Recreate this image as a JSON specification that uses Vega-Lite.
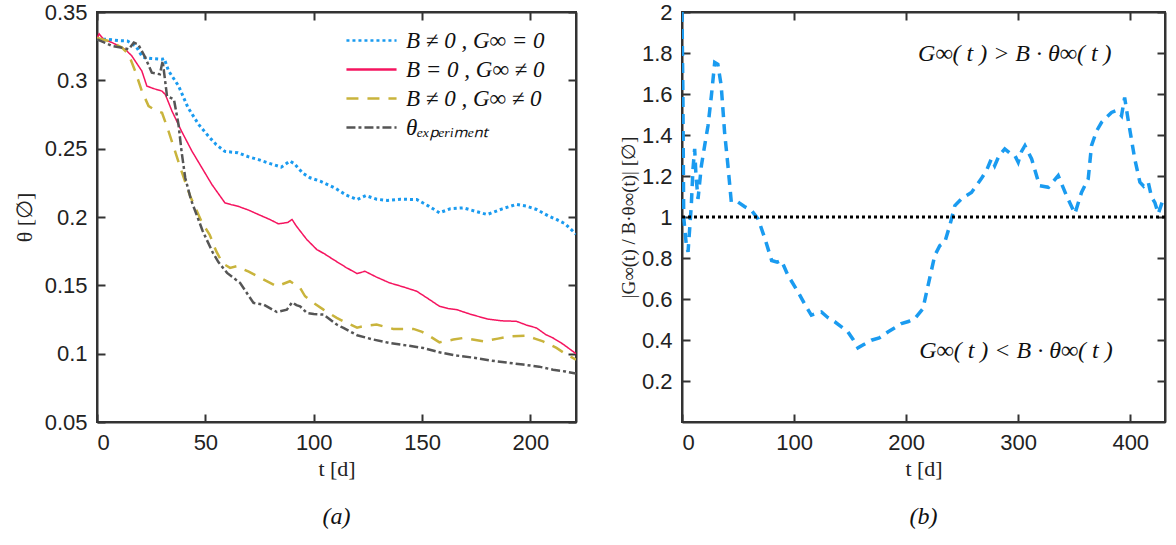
{
  "$schema": "https://vega.github.io/schema/vega-lite/v6.json",
  "background": "white",
  "padding": {"left": 12, "top": 0, "right": 6, "bottom": 10},
  "bounds": "flush",
  "spacing": 106,
  "config": {
    "view": {"stroke": "#333", "strokeWidth": 2},
    "axis": {
      "domainColor": "#333", "domainWidth": 2, "tickColor": "#333", "tickWidth": 2, "tickSize": -8,
      "labelFont": "Liberation Sans", "labelFontSize": 22, "labelColor": "#222", "labelPadding": 18,
      "titleFont": "Liberation Serif", "titleFontSize": 22, "titleFontWeight": "normal", "titleColor": "#222",
      "grid": false
    }
  },
  "datasets": {
    "theta": [
      {"s": "B ≠ 0 , G∞ = 0", "t": 0, "v": 0.330}, {"s": "B ≠ 0 , G∞ = 0", "t": 5, "v": 0.330}, {"s": "B ≠ 0 , G∞ = 0", "t": 10, "v": 0.329}, {"s": "B ≠ 0 , G∞ = 0", "t": 14, "v": 0.3288}, {"s": "B ≠ 0 , G∞ = 0", "t": 18, "v": 0.325}, {"s": "B ≠ 0 , G∞ = 0", "t": 21, "v": 0.317}, {"s": "B ≠ 0 , G∞ = 0", "t": 25, "v": 0.316}, {"s": "B ≠ 0 , G∞ = 0", "t": 30, "v": 0.3154}, {"s": "B ≠ 0 , G∞ = 0", "t": 31, "v": 0.316}, {"s": "B ≠ 0 , G∞ = 0", "t": 33, "v": 0.307}, {"s": "B ≠ 0 , G∞ = 0", "t": 37.6, "v": 0.296}, {"s": "B ≠ 0 , G∞ = 0", "t": 42, "v": 0.280}, {"s": "B ≠ 0 , G∞ = 0", "t": 46.9, "v": 0.2677}, {"s": "B ≠ 0 , G∞ = 0", "t": 51.5, "v": 0.259}, {"s": "B ≠ 0 , G∞ = 0", "t": 55, "v": 0.253}, {"s": "B ≠ 0 , G∞ = 0", "t": 59, "v": 0.248}, {"s": "B ≠ 0 , G∞ = 0", "t": 65, "v": 0.247}, {"s": "B ≠ 0 , G∞ = 0", "t": 70, "v": 0.244}, {"s": "B ≠ 0 , G∞ = 0", "t": 74.5, "v": 0.242}, {"s": "B ≠ 0 , G∞ = 0", "t": 80, "v": 0.239}, {"s": "B ≠ 0 , G∞ = 0", "t": 85, "v": 0.2365}, {"s": "B ≠ 0 , G∞ = 0", "t": 89, "v": 0.2409}, {"s": "B ≠ 0 , G∞ = 0", "t": 91, "v": 0.239}, {"s": "B ≠ 0 , G∞ = 0", "t": 95, "v": 0.232}, {"s": "B ≠ 0 , G∞ = 0", "t": 98.3, "v": 0.2287}, {"s": "B ≠ 0 , G∞ = 0", "t": 103, "v": 0.2262}, {"s": "B ≠ 0 , G∞ = 0", "t": 110, "v": 0.221}, {"s": "B ≠ 0 , G∞ = 0", "t": 115, "v": 0.216}, {"s": "B ≠ 0 , G∞ = 0", "t": 120, "v": 0.2128}, {"s": "B ≠ 0 , G∞ = 0", "t": 124, "v": 0.2157}, {"s": "B ≠ 0 , G∞ = 0", "t": 129, "v": 0.213}, {"s": "B ≠ 0 , G∞ = 0", "t": 134, "v": 0.2121}, {"s": "B ≠ 0 , G∞ = 0", "t": 140, "v": 0.213}, {"s": "B ≠ 0 , G∞ = 0", "t": 147.5, "v": 0.2128}, {"s": "B ≠ 0 , G∞ = 0", "t": 153, "v": 0.208}, {"s": "B ≠ 0 , G∞ = 0", "t": 158, "v": 0.2031}, {"s": "B ≠ 0 , G∞ = 0", "t": 163, "v": 0.206}, {"s": "B ≠ 0 , G∞ = 0", "t": 169, "v": 0.2067}, {"s": "B ≠ 0 , G∞ = 0", "t": 175, "v": 0.204}, {"s": "B ≠ 0 , G∞ = 0", "t": 180, "v": 0.2018}, {"s": "B ≠ 0 , G∞ = 0", "t": 187, "v": 0.206}, {"s": "B ≠ 0 , G∞ = 0", "t": 193.5, "v": 0.2092}, {"s": "B ≠ 0 , G∞ = 0", "t": 198, "v": 0.208}, {"s": "B ≠ 0 , G∞ = 0", "t": 202.8, "v": 0.2055}, {"s": "B ≠ 0 , G∞ = 0", "t": 208, "v": 0.201}, {"s": "B ≠ 0 , G∞ = 0", "t": 212, "v": 0.1982}, {"s": "B ≠ 0 , G∞ = 0", "t": 216, "v": 0.195}, {"s": "B ≠ 0 , G∞ = 0", "t": 221, "v": 0.1875},

      {"s": "B = 0 , G∞ ≠ 0", "t": 0, "v": 0.331}, {"s": "B = 0 , G∞ ≠ 0", "t": 1, "v": 0.334}, {"s": "B = 0 , G∞ ≠ 0", "t": 3, "v": 0.330}, {"s": "B = 0 , G∞ ≠ 0", "t": 7, "v": 0.3276}, {"s": "B = 0 , G∞ ≠ 0", "t": 13, "v": 0.3227}, {"s": "B = 0 , G∞ ≠ 0", "t": 16, "v": 0.318}, {"s": "B = 0 , G∞ ≠ 0", "t": 18.5, "v": 0.312}, {"s": "B = 0 , G∞ ≠ 0", "t": 20.7, "v": 0.3068}, {"s": "B = 0 , G∞ ≠ 0", "t": 23, "v": 0.2958}, {"s": "B = 0 , G∞ ≠ 0", "t": 26, "v": 0.294}, {"s": "B = 0 , G∞ ≠ 0", "t": 30, "v": 0.2921}, {"s": "B = 0 , G∞ ≠ 0", "t": 31.5, "v": 0.2897}, {"s": "B = 0 , G∞ ≠ 0", "t": 34.6, "v": 0.2775}, {"s": "B = 0 , G∞ ≠ 0", "t": 39, "v": 0.2628}, {"s": "B = 0 , G∞ ≠ 0", "t": 43.8, "v": 0.2482}, {"s": "B = 0 , G∞ ≠ 0", "t": 48.4, "v": 0.236}, {"s": "B = 0 , G∞ ≠ 0", "t": 53, "v": 0.2238}, {"s": "B = 0 , G∞ ≠ 0", "t": 59, "v": 0.2104}, {"s": "B = 0 , G∞ ≠ 0", "t": 62, "v": 0.209}, {"s": "B = 0 , G∞ ≠ 0", "t": 65, "v": 0.2079}, {"s": "B = 0 , G∞ ≠ 0", "t": 70, "v": 0.205}, {"s": "B = 0 , G∞ ≠ 0", "t": 74.5, "v": 0.2018}, {"s": "B = 0 , G∞ ≠ 0", "t": 80, "v": 0.198}, {"s": "B = 0 , G∞ ≠ 0", "t": 83.7, "v": 0.195}, {"s": "B = 0 , G∞ ≠ 0", "t": 88, "v": 0.196}, {"s": "B = 0 , G∞ ≠ 0", "t": 90, "v": 0.1982}, {"s": "B = 0 , G∞ ≠ 0", "t": 92, "v": 0.1933}, {"s": "B = 0 , G∞ ≠ 0", "t": 96.8, "v": 0.1835}, {"s": "B = 0 , G∞ ≠ 0", "t": 101.4, "v": 0.1762}, {"s": "B = 0 , G∞ ≠ 0", "t": 105, "v": 0.173}, {"s": "B = 0 , G∞ ≠ 0", "t": 109, "v": 0.1689}, {"s": "B = 0 , G∞ ≠ 0", "t": 115, "v": 0.163}, {"s": "B = 0 , G∞ ≠ 0", "t": 120, "v": 0.1586}, {"s": "B = 0 , G∞ ≠ 0", "t": 123.6, "v": 0.1603}, {"s": "B = 0 , G∞ ≠ 0", "t": 129, "v": 0.156}, {"s": "B = 0 , G∞ ≠ 0", "t": 135, "v": 0.1518}, {"s": "B = 0 , G∞ ≠ 0", "t": 141, "v": 0.149}, {"s": "B = 0 , G∞ ≠ 0", "t": 147.5, "v": 0.1457}, {"s": "B = 0 , G∞ ≠ 0", "t": 153, "v": 0.140}, {"s": "B = 0 , G∞ ≠ 0", "t": 158, "v": 0.1347}, {"s": "B = 0 , G∞ ≠ 0", "t": 162, "v": 0.133}, {"s": "B = 0 , G∞ ≠ 0", "t": 166, "v": 0.1322}, {"s": "B = 0 , G∞ ≠ 0", "t": 172, "v": 0.129}, {"s": "B = 0 , G∞ ≠ 0", "t": 180, "v": 0.1254}, {"s": "B = 0 , G∞ ≠ 0", "t": 187, "v": 0.124}, {"s": "B = 0 , G∞ ≠ 0", "t": 193.5, "v": 0.1237}, {"s": "B = 0 , G∞ ≠ 0", "t": 198, "v": 0.121}, {"s": "B = 0 , G∞ ≠ 0", "t": 202.8, "v": 0.1188}, {"s": "B = 0 , G∞ ≠ 0", "t": 207, "v": 0.114}, {"s": "B = 0 , G∞ ≠ 0", "t": 210.4, "v": 0.1115}, {"s": "B = 0 , G∞ ≠ 0", "t": 215, "v": 0.107}, {"s": "B = 0 , G∞ ≠ 0", "t": 221, "v": 0.100},

      {"s": "B ≠ 0 , G∞ ≠ 0", "t": 0, "v": 0.331}, {"s": "B ≠ 0 , G∞ ≠ 0", "t": 5.4, "v": 0.3288}, {"s": "B ≠ 0 , G∞ ≠ 0", "t": 11.5, "v": 0.324}, {"s": "B ≠ 0 , G∞ ≠ 0", "t": 14.6, "v": 0.319}, {"s": "B ≠ 0 , G∞ ≠ 0", "t": 17.6, "v": 0.3068}, {"s": "B ≠ 0 , G∞ ≠ 0", "t": 20.7, "v": 0.2921}, {"s": "B ≠ 0 , G∞ ≠ 0", "t": 23.8, "v": 0.2812}, {"s": "B ≠ 0 , G∞ ≠ 0", "t": 27, "v": 0.278}, {"s": "B ≠ 0 , G∞ ≠ 0", "t": 30, "v": 0.2763}, {"s": "B ≠ 0 , G∞ ≠ 0", "t": 33, "v": 0.2628}, {"s": "B ≠ 0 , G∞ ≠ 0", "t": 36, "v": 0.2482}, {"s": "B ≠ 0 , G∞ ≠ 0", "t": 39, "v": 0.2335}, {"s": "B ≠ 0 , G∞ ≠ 0", "t": 43, "v": 0.2152}, {"s": "B ≠ 0 , G∞ ≠ 0", "t": 48.4, "v": 0.196}, {"s": "B ≠ 0 , G∞ ≠ 0", "t": 52, "v": 0.187}, {"s": "B ≠ 0 , G∞ ≠ 0", "t": 55, "v": 0.175}, {"s": "B ≠ 0 , G∞ ≠ 0", "t": 58, "v": 0.166}, {"s": "B ≠ 0 , G∞ ≠ 0", "t": 61.4, "v": 0.1628}, {"s": "B ≠ 0 , G∞ ≠ 0", "t": 64.5, "v": 0.164}, {"s": "B ≠ 0 , G∞ ≠ 0", "t": 70, "v": 0.160}, {"s": "B ≠ 0 , G∞ ≠ 0", "t": 76, "v": 0.155}, {"s": "B ≠ 0 , G∞ ≠ 0", "t": 83, "v": 0.1493}, {"s": "B ≠ 0 , G∞ ≠ 0", "t": 89, "v": 0.153}, {"s": "B ≠ 0 , G∞ ≠ 0", "t": 91, "v": 0.151}, {"s": "B ≠ 0 , G∞ ≠ 0", "t": 93.7, "v": 0.1481}, {"s": "B ≠ 0 , G∞ ≠ 0", "t": 96, "v": 0.142}, {"s": "B ≠ 0 , G∞ ≠ 0", "t": 99.8, "v": 0.1372}, {"s": "B ≠ 0 , G∞ ≠ 0", "t": 104.5, "v": 0.1322}, {"s": "B ≠ 0 , G∞ ≠ 0", "t": 110.6, "v": 0.1262}, {"s": "B ≠ 0 , G∞ ≠ 0", "t": 113.7, "v": 0.1237}, {"s": "B ≠ 0 , G∞ ≠ 0", "t": 120, "v": 0.119}, {"s": "B ≠ 0 , G∞ ≠ 0", "t": 124, "v": 0.1205}, {"s": "B ≠ 0 , G∞ ≠ 0", "t": 129, "v": 0.1213}, {"s": "B ≠ 0 , G∞ ≠ 0", "t": 136.7, "v": 0.1181}, {"s": "B ≠ 0 , G∞ ≠ 0", "t": 146, "v": 0.1181}, {"s": "B ≠ 0 , G∞ ≠ 0", "t": 150, "v": 0.116}, {"s": "B ≠ 0 , G∞ ≠ 0", "t": 153.6, "v": 0.1127}, {"s": "B ≠ 0 , G∞ ≠ 0", "t": 158, "v": 0.1083}, {"s": "B ≠ 0 , G∞ ≠ 0", "t": 164.4, "v": 0.1103}, {"s": "B ≠ 0 , G∞ ≠ 0", "t": 169, "v": 0.1115}, {"s": "B ≠ 0 , G∞ ≠ 0", "t": 178.2, "v": 0.109}, {"s": "B ≠ 0 , G∞ ≠ 0", "t": 185, "v": 0.111}, {"s": "B ≠ 0 , G∞ ≠ 0", "t": 190.5, "v": 0.1127}, {"s": "B ≠ 0 , G∞ ≠ 0", "t": 198, "v": 0.1132}, {"s": "B ≠ 0 , G∞ ≠ 0", "t": 202, "v": 0.111}, {"s": "B ≠ 0 , G∞ ≠ 0", "t": 205.8, "v": 0.109}, {"s": "B ≠ 0 , G∞ ≠ 0", "t": 212, "v": 0.1042}, {"s": "B ≠ 0 , G∞ ≠ 0", "t": 216, "v": 0.100}, {"s": "B ≠ 0 , G∞ ≠ 0", "t": 221, "v": 0.0956},

      {"s": "θₑₓₚₑᵣᵢₘₑₙₜ", "t": 0, "v": 0.330}, {"s": "θₑₓₚₑᵣᵢₘₑₙₜ", "t": 3, "v": 0.328}, {"s": "θₑₓₚₑᵣᵢₘₑₙₜ", "t": 7, "v": 0.3251}, {"s": "θₑₓₚₑᵣᵢₘₑₙₜ", "t": 11, "v": 0.324}, {"s": "θₑₓₚₑᵣᵢₘₑₙₜ", "t": 14.6, "v": 0.3227}, {"s": "θₑₓₚₑᵣᵢₘₑₙₜ", "t": 17, "v": 0.3276}, {"s": "θₑₓₚₑᵣᵢₘₑₙₜ", "t": 19, "v": 0.3263}, {"s": "θₑₓₚₑᵣᵢₘₑₙₜ", "t": 22.3, "v": 0.3166}, {"s": "θₑₓₚₑᵣᵢₘₑₙₜ", "t": 25.3, "v": 0.3056}, {"s": "θₑₓₚₑᵣᵢₘₑₙₜ", "t": 29, "v": 0.3044}, {"s": "θₑₓₚₑᵣᵢₘₑₙₜ", "t": 30.3, "v": 0.3141}, {"s": "θₑₓₚₑᵣᵢₘₑₙₜ", "t": 32.3, "v": 0.2885}, {"s": "θₑₓₚₑᵣᵢₘₑₙₜ", "t": 35.5, "v": 0.286}, {"s": "θₑₓₚₑᵣᵢₘₑₙₜ", "t": 37.6, "v": 0.2677}, {"s": "θₑₓₚₑᵣᵢₘₑₙₜ", "t": 39, "v": 0.2482}, {"s": "θₑₓₚₑᵣᵢₘₑₙₜ", "t": 40.7, "v": 0.2287}, {"s": "θₑₓₚₑᵣᵢₘₑₙₜ", "t": 43.4, "v": 0.2125}, {"s": "θₑₓₚₑᵣᵢₘₑₙₜ", "t": 48.7, "v": 0.190}, {"s": "θₑₓₚₑᵣᵢₘₑₙₜ", "t": 53.4, "v": 0.174}, {"s": "θₑₓₚₑᵣᵢₘₑₙₜ", "t": 56, "v": 0.167}, {"s": "θₑₓₚₑᵣᵢₘₑₙₜ", "t": 60, "v": 0.1591}, {"s": "θₑₓₚₑᵣᵢₘₑₙₜ", "t": 66, "v": 0.1518}, {"s": "θₑₓₚₑᵣᵢₘₑₙₜ", "t": 72.2, "v": 0.1372}, {"s": "θₑₓₚₑᵣᵢₘₑₙₜ", "t": 76.8, "v": 0.1359}, {"s": "θₑₓₚₑᵣᵢₘₑₙₜ", "t": 83, "v": 0.1305}, {"s": "θₑₓₚₑᵣᵢₘₑₙₜ", "t": 87.6, "v": 0.1322}, {"s": "θₑₓₚₑᵣᵢₘₑₙₜ", "t": 90, "v": 0.1376}, {"s": "θₑₓₚₑᵣᵢₘₑₙₜ", "t": 92, "v": 0.1355}, {"s": "θₑₓₚₑᵣᵢₘₑₙₜ", "t": 93.7, "v": 0.1347}, {"s": "θₑₓₚₑᵣᵢₘₑₙₜ", "t": 96.8, "v": 0.1298}, {"s": "θₑₓₚₑᵣᵢₘₑₙₜ", "t": 100, "v": 0.129}, {"s": "θₑₓₚₑᵣᵢₘₑₙₜ", "t": 104.5, "v": 0.1286}, {"s": "θₑₓₚₑᵣᵢₘₑₙₜ", "t": 110.6, "v": 0.1213}, {"s": "θₑₓₚₑᵣᵢₘₑₙₜ", "t": 113.7, "v": 0.1188}, {"s": "θₑₓₚₑᵣᵢₘₑₙₜ", "t": 120, "v": 0.1135}, {"s": "θₑₓₚₑᵣᵢₘₑₙₜ", "t": 127, "v": 0.1105}, {"s": "θₑₓₚₑᵣᵢₘₑₙₜ", "t": 135, "v": 0.1078}, {"s": "θₑₓₚₑᵣᵢₘₑₙₜ", "t": 143, "v": 0.106}, {"s": "θₑₓₚₑᵣᵢₘₑₙₜ", "t": 150.5, "v": 0.1042}, {"s": "θₑₓₚₑᵣᵢₘₑₙₜ", "t": 158, "v": 0.101}, {"s": "θₑₓₚₑᵣᵢₘₑₙₜ", "t": 166, "v": 0.0986}, {"s": "θₑₓₚₑᵣᵢₘₑₙₜ", "t": 174, "v": 0.097}, {"s": "θₑₓₚₑᵣᵢₘₑₙₜ", "t": 181, "v": 0.0951}, {"s": "θₑₓₚₑᵣᵢₘₑₙₜ", "t": 189, "v": 0.0935}, {"s": "θₑₓₚₑᵣᵢₘₑₙₜ", "t": 196.6, "v": 0.092}, {"s": "θₑₓₚₑᵣᵢₘₑₙₜ", "t": 204, "v": 0.0905}, {"s": "θₑₓₚₑᵣᵢₘₑₙₜ", "t": 210.4, "v": 0.0883}, {"s": "θₑₓₚₑᵣᵢₘₑₙₜ", "t": 216, "v": 0.087}, {"s": "θₑₓₚₑᵣᵢₘₑₙₜ", "t": 221, "v": 0.0854}
    ],
    "ratio": [
      {"t": 0, "r": 2.0}, {"t": 0.8, "r": 1.6}, {"t": 1.5, "r": 1.0}, {"t": 3.9, "r": 0.861}, {"t": 5.4, "r": 0.83}, {"t": 8.3, "r": 1.056}, {"t": 9.8, "r": 1.235}, {"t": 11.3, "r": 1.332}, {"t": 12.5, "r": 1.2}, {"t": 14.3, "r": 1.088}, {"t": 17.3, "r": 1.25}, {"t": 20.2, "r": 1.348}, {"t": 23.2, "r": 1.445}, {"t": 26.2, "r": 1.59}, {"t": 29.2, "r": 1.754}, {"t": 32, "r": 1.745}, {"t": 35, "r": 1.64}, {"t": 38, "r": 1.413}, {"t": 41, "r": 1.25}, {"t": 44, "r": 1.073}, {"t": 50, "r": 1.073}, {"t": 56, "r": 1.05}, {"t": 62, "r": 1.032}, {"t": 68, "r": 0.99}, {"t": 74, "r": 0.894}, {"t": 80, "r": 0.788}, {"t": 85, "r": 0.78}, {"t": 88.7, "r": 0.788}, {"t": 94.6, "r": 0.715}, {"t": 103.6, "r": 0.634}, {"t": 110, "r": 0.57}, {"t": 115.4, "r": 0.521}, {"t": 120, "r": 0.53}, {"t": 124.4, "r": 0.537}, {"t": 130, "r": 0.51}, {"t": 136.3, "r": 0.489}, {"t": 142, "r": 0.465}, {"t": 148, "r": 0.44}, {"t": 153, "r": 0.4}, {"t": 157, "r": 0.362}, {"t": 163, "r": 0.38}, {"t": 169, "r": 0.399}, {"t": 176, "r": 0.41}, {"t": 184, "r": 0.44}, {"t": 190, "r": 0.46}, {"t": 195.8, "r": 0.48}, {"t": 202, "r": 0.49}, {"t": 207.8, "r": 0.505}, {"t": 215, "r": 0.553}, {"t": 219.6, "r": 0.667}, {"t": 225.6, "r": 0.813}, {"t": 230, "r": 0.86}, {"t": 234.5, "r": 0.878}, {"t": 239, "r": 0.959}, {"t": 243.5, "r": 1.056}, {"t": 249.4, "r": 1.089}, {"t": 258.3, "r": 1.12}, {"t": 267, "r": 1.186}, {"t": 272, "r": 1.23}, {"t": 276, "r": 1.283}, {"t": 279, "r": 1.25}, {"t": 283, "r": 1.3}, {"t": 288, "r": 1.332}, {"t": 293, "r": 1.31}, {"t": 297, "r": 1.3}, {"t": 300, "r": 1.267}, {"t": 303, "r": 1.32}, {"t": 306, "r": 1.348}, {"t": 312, "r": 1.283}, {"t": 319, "r": 1.153}, {"t": 327, "r": 1.145}, {"t": 335.7, "r": 1.202}, {"t": 343, "r": 1.105}, {"t": 350.6, "r": 1.016}, {"t": 356.5, "r": 1.12}, {"t": 362.5, "r": 1.186}, {"t": 365.4, "r": 1.348}, {"t": 370, "r": 1.42}, {"t": 374.4, "r": 1.462}, {"t": 383.3, "r": 1.51}, {"t": 388, "r": 1.52}, {"t": 392.2, "r": 1.494}, {"t": 395, "r": 1.583}, {"t": 398, "r": 1.478}, {"t": 404, "r": 1.283}, {"t": 408.6, "r": 1.17}, {"t": 412, "r": 1.15}, {"t": 416, "r": 1.17}, {"t": 419, "r": 1.097}, {"t": 422, "r": 1.07}, {"t": 425, "r": 1.016}, {"t": 429.5, "r": 1.089}, {"t": 431, "r": 1.1}
    ],
    "ann": [
      {"t": 297, "r": 1.794, "label": "G∞( t )  >  B · θ∞( t )"},
      {"t": 298, "r": 0.348, "label": "G∞( t )  <  B · θ∞( t )"}
    ],
    "ref": [{"r": 1}]
  },
  "hconcat": [
    {
      "width": 479,
      "height": 410,
      "title": {"text": "(a)", "orient": "bottom", "font": "Liberation Serif", "fontStyle": "italic", "fontWeight": "normal", "fontSize": 24, "color": "#111", "offset": 26},
      "layer": [
        {
          "data": {"name": "theta"},
          "mark": {"type": "line", "clip": true, "strokeCap": "butt"},
          "encoding": {
            "x": {"field": "t", "type": "quantitative", "scale": {"domain": [0, 221], "nice": false}, "axis": {"values": [0, 50, 100, 150, 200], "title": "t [d]", "titlePadding": 5}},
            "y": {"field": "v", "type": "quantitative", "scale": {"domain": [0.05, 0.35], "nice": false, "zero": false}, "axis": {"values": [0.05, 0.1, 0.15, 0.2, 0.25, 0.3, 0.35], "format": "~g", "title": "θ [∅]", "titlePadding": 8}},
            "color": {
              "field": "s", "type": "nominal",
              "scale": {"domain": ["B ≠ 0 , G∞ = 0", "B = 0 , G∞ ≠ 0", "B ≠ 0 , G∞ ≠ 0", "θₑₓₚₑᵣᵢₘₑₙₜ"], "range": ["#1a9bf0", "#f5145f", "#c9b43c", "#555555"]},
              "legend": {"title": null, "orient": "none", "legendX": 258, "legendY": 12, "symbolType": "M-1.67,0H1.67", "symbolSize": 900, "symbolStrokeWidth": 2.5, "labelFont": "Liberation Serif", "labelFontStyle": "italic", "labelFontSize": 23, "labelColor": "#111", "labelLimit": 300, "rowPadding": 0, "labelOffset": 18}
            },
            "strokeDash": {
              "field": "s", "type": "nominal",
              "scale": {"domain": ["B ≠ 0 , G∞ = 0", "B = 0 , G∞ ≠ 0", "B ≠ 0 , G∞ ≠ 0", "θₑₓₚₑᵣᵢₘₑₙₜ"], "range": [[3, 3], [1, 0], [12, 9], [9, 3, 3, 3]]},
              "legend": {"title": null, "orient": "none", "legendX": 258, "legendY": 12, "symbolType": "M-1.67,0H1.67", "symbolSize": 900, "symbolStrokeWidth": 2.5, "labelFont": "Liberation Serif", "labelFontStyle": "italic", "labelFontSize": 23, "labelColor": "#111", "labelLimit": 300, "rowPadding": 0, "labelOffset": 18}
            },
            "strokeWidth": {
              "condition": [
                {"test": "datum.s === 'B = 0 , G∞ ≠ 0'", "value": 1.5},
                {"test": "datum.s === 'B ≠ 0 , G∞ = 0'", "value": 3}
              ],
              "value": 2.5
            }
          }
        },
        {
          "data": {"name": "theta"},
          "mark": {"type": "point", "opacity": 0},
          "encoding": {
            "x": {"field": "t", "type": "quantitative", "axis": {"orient": "top", "values": [0, 50, 100, 150, 200], "labels": false, "title": null}},
            "y": {"field": "v", "type": "quantitative", "axis": {"orient": "right", "values": [0.05, 0.1, 0.15, 0.2, 0.25, 0.3, 0.35], "labels": false, "title": null}}
          }
        }
      ],
      "resolve": {"axis": {"x": "independent", "y": "independent"}}
    },
    {
      "width": 483,
      "height": 410,
      "title": {"text": "(b)", "orient": "bottom", "font": "Liberation Serif", "fontStyle": "italic", "fontWeight": "normal", "fontSize": 24, "color": "#111", "offset": 26},
      "layer": [
        {
          "data": {"name": "ratio"},
          "mark": {"type": "line", "clip": true, "color": "#1a9bf0", "strokeDash": [10, 7], "strokeWidth": 3.5, "strokeCap": "butt"},
          "encoding": {
            "x": {"field": "t", "type": "quantitative", "scale": {"domain": [0, 431], "nice": false}, "axis": {"values": [0, 100, 200, 300, 400], "title": "t [d]", "titlePadding": 5}},
            "y": {"field": "r", "type": "quantitative", "scale": {"domain": [0, 2], "nice": false}, "axis": {"values": [0.2, 0.4, 0.6, 0.8, 1, 1.2, 1.4, 1.6, 1.8, 2], "format": "~g", "title": "|G∞(t) / B·θ∞(t)| [∅]", "titleFontSize": 19, "titlePadding": 3}}
          }
        },
        {
          "data": {"name": "ref"},
          "mark": {"type": "rule", "color": "#000", "strokeDash": [3, 3], "strokeWidth": 3},
          "encoding": {"y": {"field": "r", "type": "quantitative", "axis": null}}
        },
        {
          "data": {"name": "ann"},
          "mark": {"type": "text", "font": "Liberation Serif", "fontStyle": "italic", "fontSize": 24, "color": "#111"},
          "encoding": {
            "x": {"field": "t", "type": "quantitative", "axis": {"orient": "top", "values": [0, 100, 200, 300, 400], "labels": false, "title": null}},
            "y": {"field": "r", "type": "quantitative", "axis": {"orient": "right", "values": [0.2, 0.4, 0.6, 0.8, 1, 1.2, 1.4, 1.6, 1.8, 2], "labels": false, "title": null}},
            "text": {"field": "label", "type": "nominal"}
          }
        }
      ],
      "resolve": {"axis": {"x": "independent", "y": "independent"}}
    }
  ]
}
